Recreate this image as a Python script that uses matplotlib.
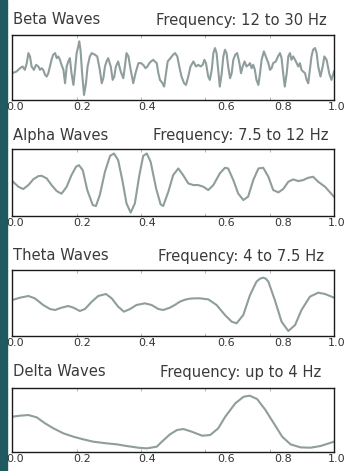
import matplotlib
matplotlib.use("Agg")
import numpy as np
import matplotlib.pyplot as plt
from matplotlib import transforms

# time in ms, amplitude in arbitrary units
beta_t = [0, 13, 24, 32, 39, 45, 50, 55, 60, 67, 74, 81, 86, 91, 96, 102, 107, 112, 117, 122,
          127, 133, 138, 143, 148, 153, 159, 164, 169, 174, 179, 184, 190, 195, 200, 205, 208, 212, 217, 223,
          229, 234, 241, 247, 257, 264, 272, 278, 283, 288, 293, 298, 306, 312, 317, 322, 329, 337, 345, 350,
          355, 361, 368, 376, 383, 392, 400, 407, 414, 420, 426, 431, 438, 443, 449, 454, 459, 467, 472, 478,
          483, 500, 506, 513, 519, 526, 534, 540, 547, 554, 563, 571, 578, 585, 592, 597, 602, 609, 614, 620,
          625, 630, 635, 640, 645, 651, 656, 661, 666, 671, 677, 682, 687, 693, 699, 706, 711, 716, 722, 728,
          735, 739, 744, 749, 754, 759, 765, 770, 775, 782, 788, 796, 801, 806, 811, 819, 826, 832, 837, 842,
          847, 853, 858, 863, 868, 873, 879, 884, 889, 894, 899, 904, 910, 915, 920, 925, 930, 935, 941, 946,
          951, 958, 965, 970, 977, 985, 992, 1000]
beta_v = [-20, -15, -5, 0, -10, 10, 40, 30, 0, -10, 5, 0, -10, -5, -10, -25, -30, -20, 0, 20,
          35, 40, 25, 30, 20, 5, -10, -50, 0, 15, 25, -20, -55, -10, 40, 60, 75, 50, -20, -85,
          -50, 0, 30, 40, 35, 30, -10, -50, -35, 0, 15, 25, 0, -40, -30, 0, 15, -15, -35, 0,
          40, 30, -10, -50, -20, 10, 10, 5, -5, 0, 10, 15, 20, 15, 10, -20, -40, -50, -60, -20,
          15, 35, 40, 30, 0, -30, -50, -55, -30, 0, 15, 0, 5, 0, 5, 20, 10, -30, -40, -10,
          40, 55, 40, -10, -60, -20, 30, 50, 40, 0, -35, -20, 20, 35, 40, 10, -20, 0, 15, 0,
          5, 10, -5, 5, -10, -40, -55, -20, 20, 45, 30, 10, -10, -5, 10, 15, 30, 40, 25, -20,
          -60, -20, 30, 40, 20, 30, 20, 10, 0, 10, -10, -15, -20, -40, -50, -10, 30, 50, 55, 40,
          0, -30, 0, 30, 20, -20, -40, -15]

alpha_t = [0, 19, 34, 50, 65, 81, 91, 107, 122, 138, 153, 169, 184, 198, 207, 219, 233, 250, 260, 272,
           288, 304, 316, 329, 343, 355, 368, 381, 395, 407, 418, 430, 447, 461, 469, 485, 500, 516, 531, 547,
           563, 578, 594, 609, 625, 645, 661, 671, 687, 702, 718, 733, 749, 765, 780, 796, 811, 827, 842, 858,
           873, 889, 904, 920, 935, 951, 972, 1000]
alpha_v = [2, -15, -22, -10, 7, 17, 18, 10, -10, -28, -36, -15, 20, 45, 50, 35, -25, -70, -73, -40,
           30, 78, 85, 65, 0, -65, -93, -65, 20, 78, 85, 60, -20, -68, -73, -30, 20, 40, 20, -5,
           -10, -10, -15, -25, -10, 25, 42, 40, 5, -35, -55, -45, 5, 40, 42, 15, -25, -32, -22, 0,
           7, 2, 5, 12, 15, 0, -15, -45]

theta_t = [0, 24, 50, 70, 96, 117, 133, 153, 174, 190, 210, 226, 247, 267, 291, 309, 329, 347, 366, 386,
           412, 433, 454, 469, 490, 505, 521, 537, 552, 567, 583, 609, 635, 661, 682, 697, 718, 739, 759, 770,
           780, 788, 796, 816, 837, 858, 879, 899, 925, 951, 972, 1000]
theta_v = [10, 17, 22, 15, -5, -17, -20, -13, -8, -13, -23, -17, 5, 22, 28, 15, -10, -25, -17, -5,
           0, -5, -17, -20, -13, -5, 5, 11, 14, 15, 15, 12, -5, -35, -55, -60, -35, 25, 65, 74,
           77, 74, 65, 10, -55, -83, -65, -20, 20, 32, 28, 17]

delta_t = [0, 24, 50, 76, 102, 128, 159, 190, 221, 252, 294, 325, 356, 392, 418, 449, 465, 490, 512, 532,
           558, 590, 615, 640, 662, 693, 719, 738, 761, 787, 813, 839, 865, 896, 927, 958, 1000]
delta_v = [5, 8, 10, 3, -15, -30, -45, -55, -63, -70, -75, -78, -83, -88, -90, -85, -70, -48, -35, -32,
           -40, -52, -50, -30, 5, 45, 65, 68, 58, 25, -15, -55, -78, -87, -88, -83, -70]

names = ["Beta Waves", "Alpha Waves", "Theta Waves", "Delta Waves"]
freqs = ["Frequency: 12 to 30 Hz", "Frequency: 7.5 to 12 Hz",
         "Frequency: 4 to 7.5 Hz", "Frequency: up to 4 Hz"]
series = [(beta_t, beta_v), (alpha_t, alpha_v), (theta_t, theta_v), (delta_t, delta_v)]
ylims = [(-100, 94), (-103, 100), (-98, 100), (-100, 92)]

ticks = [0.0, 0.2, 0.4, 0.6, 0.8, 1.0]
tick_labels = ["0.0", "0.2", "0.4", "0.6", "0.8", "1.0"]
label_shift = [3, 5, 6, 21, 13, 3]   # px, labels in the original sit a bit off their ticks

W, H = 346, 471
box_top = [35, 148.5, 270, 387.7]
box_bot = [100, 216, 336, 451.7]
title_y = [20, 136, 256, 372]
left_px, right_px = 12.3, 334

fig = plt.figure(figsize=(W / 100, H / 100), dpi=100)
fig.patch.set_facecolor("white")
fig.add_artist(plt.Rectangle((0, 0), 7 / W, 1, transform=fig.transFigure,
                             color="#1e5a60", zorder=0))

line_col = "#8f9d9d"
txt_col = "#333333"

for i in range(4):
    ax = fig.add_axes([left_px / W, 1 - box_bot[i] / H,
                       (right_px - left_px) / W, (box_bot[i] - box_top[i]) / H])
    t, v = series[i]
    ax.plot(np.array(t) / 1000.0, v, color=line_col, lw=1.5, solid_joinstyle="round")
    ax.set_xlim(0, 1)
    ax.set_ylim(*ylims[i])
    ax.set_yticks([])
    ax.set_xticks(ticks)
    ax.set_xticklabels([])
    ax.tick_params(axis="x", direction="in", length=2.5, width=0.6,
                   color="#aaaaaa", top=True, bottom=True)
    for s in ax.spines.values():
        s.set_color("#1a1a1a")
        s.set_linewidth(1.0)

    base = transforms.blended_transform_factory(ax.transData, ax.transAxes)
    for tk, lab, dx in zip(ticks, tick_labels, label_shift):
        tr = base + transforms.ScaledTranslation(dx / 100, -7.5 / 100, fig.dpi_scale_trans)
        ax.text(tk, 0, lab, transform=tr, ha="center", va="center",
                fontsize=8, color=txt_col)

    fig.text(13 / W, 1 - title_y[i] / H, names[i], ha="left", va="center",
             fontsize=10.6, color="#3a3a3a")
    fig.text(241 / W, 1 - title_y[i] / H, freqs[i], ha="center", va="center",
             fontsize=10.6, color="#3a3a3a")

fig.savefig("out.png", dpi=100)
